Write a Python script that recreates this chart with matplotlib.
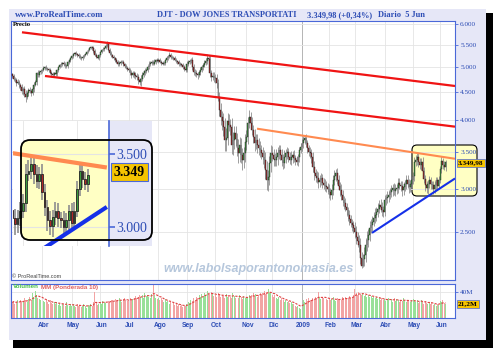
import matplotlib
matplotlib.use("Agg")

import matplotlib.pyplot as plt
import numpy as np
import pandas as pd
from matplotlib.patches import FancyBboxPatch, Rectangle
from matplotlib.ticker import NullLocator
from matplotlib.transforms import IdentityTransform

W, H, DPI = 495, 352, 100
plt.rcParams["font.family"] = ["Liberation Serif", "DejaVu Serif"]

# ---- data (daily bars, DJT, 28 Feb 2008 - 5 Jun 2009) ----
first_day = "2008-02-28"
last_day = "2009-06-05"
market_holidays = ["2008-03-21", "2008-05-26", "2008-07-04", "2008-09-01", "2008-11-27",
                   "2008-12-25", "2009-01-01", "2009-01-19", "2009-02-16", "2009-04-10",
                   "2009-05-25"]
prev_close = 4860.0

close = [
    4820, 4760,  # feb 08
    4745, 4690, 4700, 4640, 4600, 4520, 4560, 4470, 4410, 4480,
    4545, 4520, 4490, 4560, 4650, 4700, 4880, 4850, 4900, 4920,  # mar
    4945, 4990, 5010, 4970, 4960, 4945, 4890, 4860, 4840, 4875, 4860,
    4940, 5007, 5040, 5070, 5092, 5060, 5020, 5030, 5110, 5150, 5200,  # apr
    5240, 5280, 5310, 5290, 5267, 5240, 5210, 5200, 5230, 5260, 5290,
    5340, 5380, 5420, 5440, 5420, 5360, 5270, 5230, 5200, 5260,  # may
    5330, 5370, 5400, 5420, 5480, 5520, 5380, 5320, 5260, 5230, 5190,
    5157, 5120, 5070, 5090, 5120, 5113, 5060, 5030, 4990, 4960,  # jun
    4945, 4890, 4840, 4880, 4840, 4820, 4800, 4740, 4700, 4770, 4840,
    4890, 4920, 4945, 5010, 5070, 5090, 5113, 5080, 5120, 5150, 5140,  # jul
    5157, 5120, 5100, 5080, 5092, 5150, 5200, 5240, 5267, 5230, 5210,
    5200, 5160, 5130, 5113, 5080, 5060, 5049, 5000, 4960, 4945,  # aug
    5080, 5113, 5140, 5157, 5010, 4903, 4880, 4860, 4840, 4900, 4950,
    5007, 5050, 5092, 5140, 5200, 5180, 4883, 4800, 4830, 4790,  # sep
    4780, 4682, 4413, 4179, 4050, 3990, 3890, 3683, 3720, 3990, 3930, 3891,
    3606, 3683, 3793, 3700, 3561, 3487, 3606, 3458, 3386, 3480, 3650,  # oct
    3730, 3957, 4057, 3950, 3841, 3730, 3630, 3683, 3606, 3560,
    3532, 3487, 3429, 3386, 3250, 3113, 3153, 3343, 3487,  # nov
    3458, 3400, 3386, 3429, 3480, 3532, 3450, 3386, 3343, 3429, 3480,
    3502, 3429, 3386, 3429, 3458, 3410, 3386, 3358, 3429, 3532, 3580,  # dec
    3630, 3683, 3714, 3630, 3561, 3500, 3487, 3429, 3287, 3206,
    3160, 3139, 3087, 3113, 3139, 3074, 3050, 3040, 3022, 3000,  # jan 09
    2960, 2922, 2984, 3113, 3160, 3206, 3113, 3040, 2984, 2920,
    2862, 2820, 2780, 2740, 2687, 2640, 2600, 2574, 2540,  # feb
    2500, 2448, 2410, 2367, 2242, 2170, 2230, 2270, 2367, 2420, 2470,
    2543, 2576, 2610, 2652, 2690, 2720, 2760, 2800, 2780, 2740, 2720,  # mar
    2862, 2880, 2898, 2922, 2960, 2984, 3009, 2972, 2990, 3009, 3074,
    3050, 3035, 2984, 3020, 3061, 3113, 3060, 3022, 3060, 3108,  # apr
    3160, 3357, 3380, 3430, 3360, 3310, 3357, 3230, 3130, 3045,
    3010, 3065, 3108, 3060, 3045, 3000, 3045, 3108, 3030, 3108,  # may
    3256, 3378, 3320, 3285, 3349.98,  # jun
]

wick_hi = [
    30, 40,
    50, 35, 60, 40, 45, 70, 40, 55, 80, 45, 30, 60, 50, 40, 55, 45, 30, 60, 40, 35,
    30, 40, 25, 45, 35, 30, 50, 40, 35, 30, 45, 25, 30, 40, 35, 25, 40, 45, 30, 35, 30, 25,
    35, 30, 25, 40, 30, 35, 40, 30, 25, 35, 30, 25, 30, 35, 40, 30, 45, 35, 30, 40, 35,
    30, 35, 40, 30, 45, 60, 35, 40, 30, 35, 40, 30, 45, 35, 40, 30, 35, 45, 30, 40, 35,
    50, 40, 60, 45, 50, 70, 55, 60, 50, 65, 55, 45, 60, 50, 40, 55, 45, 35, 40, 50, 35, 40,
    35, 40, 30, 35, 40, 30, 45, 35, 60, 40, 30, 35, 40, 30, 35, 40, 30, 35, 40, 45, 35,
    50, 35, 45, 40, 70, 60, 55, 65, 50, 45, 60, 50, 45, 55, 60, 90, 70, 80, 60, 75, 65,
    80, 90, 70, 100, 120, 110, 130, 150, 160, 140, 120, 100, 150, 130, 110, 120, 100, 130,
    120, 110, 100, 90, 120,
    110, 100, 120, 90, 110, 80, 120, 100, 90, 110, 100, 80, 90, 100, 110, 120, 90, 100, 120,
    100, 90, 80, 110, 90, 80, 70, 90, 80, 100, 70, 80, 60, 70, 80, 60, 70, 50, 60, 50, 40, 60,
    70, 60, 50, 70, 60, 50, 80, 60, 70, 90, 60, 70, 80, 60, 70, 50, 60, 70, 60, 50,
    60, 50, 70, 60, 80, 60, 70, 60, 50, 70, 60, 50, 60, 50, 40, 60, 50, 40, 50,
    70, 60, 50, 60, 70, 60, 50, 80, 70, 90, 60, 80, 70, 60, 70, 80, 60, 70, 60, 70, 60, 50,
    60, 50, 70, 60, 50, 60, 50, 60, 70, 50, 60, 70, 50, 60, 70, 50, 60, 70, 60, 50, 60,
    60, 70, 80, 60, 50, 60, 50, 70, 60, 50, 60, 50, 60, 50, 40, 60, 50, 40, 50, 60,
    50, 60, 40, 50, 40,
]

wick_lo = [
    40, 30,
    40, 60, 35, 50, 60, 45, 70, 50, 90, 40, 50, 35, 60, 45, 50, 35, 60, 40, 45, 30,
    40, 30, 45, 35, 30, 40, 35, 50, 45, 35, 30, 40, 35, 30, 25, 40, 35, 30, 40, 35, 30, 35,
    30, 35, 40, 30, 35, 30, 25, 40, 35, 30, 25, 35, 30, 25, 30, 35, 40, 30, 35, 30, 45,
    35, 30, 25, 35, 30, 40, 35, 45, 40, 30, 35, 40, 30, 35, 45, 40, 30, 35, 40, 30, 45,
    40, 50, 60, 45, 55, 50, 60, 70, 65, 80, 50, 45, 55, 40, 45, 50, 40, 45, 35, 40, 45, 35,
    40, 35, 45, 40, 35, 40, 30, 35, 40, 45, 35, 40, 30, 35, 40, 45, 35, 30, 40, 45, 40,
    40, 45, 35, 40, 60, 70, 60, 50, 70, 45, 50, 40, 55, 45, 50, 60, 80, 90, 70, 60, 80,
    90, 100, 80, 110, 130, 150, 140, 160, 170, 120, 110, 130, 140, 150, 130, 110, 120, 140,
    130, 120, 140, 110, 130,
    120, 110, 90, 100, 80, 100, 110, 90, 120, 100, 110, 90, 100, 110, 120, 130, 140, 110, 120,
    90, 100, 80, 90, 110, 80, 70, 80, 90, 70, 90, 80, 70, 60, 70, 80, 60, 70, 50, 60, 70, 50,
    60, 70, 60, 50, 70, 60, 70, 80, 70, 90, 80, 70, 80, 70, 60, 70, 60, 70, 60, 70,
    70, 60, 50, 60, 70, 60, 50, 60, 70, 60, 70, 60, 50, 60, 70, 60, 50, 60, 50,
    60, 70, 60, 70, 60, 25, 15, 60, 70, 60, 70, 60, 50, 60, 50, 60, 70, 60, 50, 60, 70, 60,
    50, 60, 50, 60, 50, 60, 70, 50, 60, 50, 60, 50, 60, 70, 60, 50, 60, 50, 70, 60, 50,
    50, 60, 50, 60, 70, 50, 60, 50, 60, 70, 60, 70, 50, 60, 50, 60, 50, 60, 50, 40,
    40, 50, 60, 40, 50,
]

volume_m = [
    24, 26,
    22, 25, 27, 23, 28, 26, 24, 30, 27, 25, 29, 32, 28, 38, 33, 42, 36, 31, 29, 27,
    30, 26, 24, 28, 25, 22, 27, 23, 21, 25, 22, 24, 20, 23, 19, 22, 21, 18, 24, 20, 19, 22,
    18, 21, 19, 17, 22, 18, 20, 17, 19, 21, 18, 16, 20, 19, 22, 18, 24, 40, 23, 20, 22,
    24, 22, 26, 25, 23, 27, 26, 24, 28, 27, 25, 29, 26, 28, 30, 27, 25, 29, 31, 28, 26,
    27, 30, 28, 29, 31, 34, 30, 33, 36, 32, 35, 31, 38, 34, 36, 33, 30, 37, 52, 35, 31, 29,
    30, 28, 31, 27, 25, 29, 24, 26, 22, 25, 21, 23, 20, 22, 19, 21, 18, 20, 17, 19, 18,
    22, 25, 23, 27, 26, 30, 28, 33, 31, 35, 32, 37, 34, 39, 36, 42, 38, 35, 40, 37, 34,
    36, 33, 38, 35, 32, 36, 34, 31, 37, 33, 35, 32, 30, 39, 34, 31, 33, 30, 35, 32, 29, 34, 31,
    30, 33, 36, 32, 35, 38, 34, 37, 33, 36, 39, 35, 38, 41, 37, 40, 45, 39, 38,
    35, 33, 36, 31, 29, 32, 28, 30, 27, 25, 28, 24, 26, 23, 25, 21, 22, 19, 17, 18, 16, 14,
    24, 27, 25, 29, 26, 30, 28, 27, 31, 29, 33, 30, 40, 32, 29, 31, 30, 33, 29, 28,
    30, 27, 29, 32, 28, 26, 30, 27, 29, 28, 32, 30, 33, 29, 31, 34, 30, 33, 35,
    44, 38, 36, 40, 37, 35, 39, 34, 36, 33, 35, 32, 34, 31, 33, 30, 32, 29, 31, 28, 30, 27,
    29, 26, 28, 31, 27, 29, 25, 30, 26, 29, 27, 24, 28, 26, 30, 27, 25, 28, 26, 24, 27,
    29, 26, 24, 27, 23, 25, 28, 24, 22, 26, 23, 21, 25, 22, 24, 20, 21, 19, 22, 20,
    26, 24, 27, 23, 21.2,
]

month_labels = ["Abr", "May", "Jun", "Jul", "Ago", "Sep", "Oct", "Nov", "Dic",
                "2009", "Feb", "Mar", "Abr", "May", "Jun"]
price_ticks = [2500, 3000, 3500, 4000, 4500, 5000, 5500, 6000]
price_ticklabels = ["2.500", "3.000", "3.500", "4.000", "4.500", "5.000", "5.500", "6.000"]
inset_ticks = [3000, 3500]
inset_ticklabels = ["3.000", "3.500"]
vol_ticks = [40]
vol_ticklabels = ["40M"]

# trend lines: (bar index, price) end points
trend_red_top = ([7.2, 327.0], [5794, 4622])
trend_red_bottom = ([24.2, 327.0], [4821, 3895])
trend_orange = ([180.8, 327.0], [3862, 3403])
trend_blue = ([265.7, 327.0], [2491, 3132])

site_text = "www.ProRealTime.com"
title_name = "DJT - DOW JONES TRANSPORTATI"
title_quote = "3.349,98 (+0,34%)"
title_period = "Diario  5 Jun"
last_price_text = "3.349,98"
inset_price_text = "3.349"
last_volume_text = "21,2M"
watermark = "www.labolsaporantonomasia.es"

# ---- derived series ----
days = pd.bdate_range(first_day, last_day)
days = days[~days.isin(pd.to_datetime(market_holidays))]
c = np.asarray(close, dtype=float)
assert len(days) == len(c) == len(wick_hi) == len(wick_lo) == len(volume_m)
o = np.r_[prev_close, c[:-1]]
high = np.maximum(o, c) + np.asarray(wick_hi)
low = np.minimum(o, c) - np.asarray(wick_lo)
up = c >= o
x = np.arange(len(c))
vol = np.asarray(volume_m, dtype=float)

weights = np.arange(1, 11, dtype=float)
mm = np.array([np.dot(vol[max(0, k - 9):k + 1], weights[-min(k + 1, 10):]) / weights[-min(k + 1, 10):].sum()
               for k in range(len(vol))])

month_start = np.flatnonzero(np.r_[True, days.month[1:] != days.month[:-1]])
label_idx = month_start[2:]
grid_idx = month_start[2:]
year_idx = month_start[np.flatnonzero(days[month_start].year == 2009)[0]]
assert len(label_idx) == len(month_labels)

# ---- styling ----
AX_BLUE = "#4a68d8"
TXT_BLUE = "#2d4db5"
PANEL = "#e6e7f7"
GRID = "#e4e4e4"
GREEN, RED = "#3c9c3c", "#b02828"
SANS = ["Liberation Sans", "DejaVu Sans"]


def px_axes(fig, x0, y0, x1, y1, **kw):
    return fig.add_axes([x0 / W, 1 - y1 / H, (x1 - x0) / W, (y1 - y0) / H], **kw)


def px_text(fig, px, py, s, **kw):
    return fig.text(px / W, 1 - py / H, s, **kw)


def px_round(x0, y0, x1, y1, r, **kw):
    return FancyBboxPatch((x0, H - y1), x1 - x0, y1 - y0,
                          boxstyle=f"round,pad=0,rounding_size={r}",
                          transform=IdentityTransform(), **kw)


def px_rect(x0, y0, x1, y1, **kw):
    return Rectangle((x0, H - y1), x1 - x0, y1 - y0, transform=IdentityTransform(), **kw)


def draw_price(ax, k):
    ax.vlines(x, low, high, colors="#8e8e8e", linewidth=0.6 * k, zorder=2)
    bottom = np.minimum(o, c)
    height = np.maximum(np.abs(c - o), c * 0.0015)
    ax.bar(x, height, bottom=bottom, width=0.62, color=np.where(up, GREEN, RED),
           edgecolor="#262626", linewidth=0.3 * k, zorder=3)
    ax.plot(*trend_red_top, color="#f01414", lw=1.6 * k, zorder=4, solid_capstyle="butt")
    ax.plot(*trend_red_bottom, color="#f01414", lw=1.6 * k, zorder=4, solid_capstyle="butt")
    ax.plot(*trend_orange, color="#ff8a50", lw=1.5 * k, zorder=4, solid_capstyle="butt")
    ax.plot(*trend_blue, color="#1530e8", lw=1.5 * k, zorder=4, solid_capstyle="butt")
    for i in grid_idx:
        ax.axvline(i, color="#a8a8a8" if i == year_idx else GRID, lw=0.6, zorder=0.5)


fig = plt.figure(figsize=(W / DPI, H / DPI), dpi=DPI)
fig.patch.set_facecolor("white")
fig.add_artist(px_rect(13, 13, 493, 348, fc="black", ec="none", zorder=-3))
fig.add_artist(px_rect(9, 9, 486, 340, fc=PANEL, ec="none", zorder=-2))

# header
hdr = dict(color=TXT_BLUE, fontsize=6.0, fontweight="bold", va="center")
px_text(fig, 15, 15, site_text, **{**hdr, "fontsize": 6.3})
px_text(fig, 157, 15, title_name, **hdr)
px_text(fig, 307, 15, title_quote, **hdr)
px_text(fig, 378, 15, title_period, **hdr)

# main price panel
ax = px_axes(fig, 11, 21, 455, 280)
ax.set_facecolor("white")
ax.add_patch(px_round(412, 145, 477, 196, 5, fc="#ffffc4", ec="black", lw=0.8,
                      zorder=1, clip_on=False))
draw_price(ax, 1.0)
ax.set_yscale("log")
ax.set_xlim(-0.9, 327.0)
ax.set_ylim(2043, 6076)
ax.set_yticks(price_ticks, price_ticklabels)
ax.yaxis.set_minor_locator(NullLocator())
ax.yaxis.tick_right()
ax.set_xticks([])
ax.tick_params(axis="y", direction="out", length=2.5, width=0.6, color=AX_BLUE,
               labelcolor=TXT_BLUE, labelsize=5.2, pad=1.2)
ax.grid(axis="y", color=GRID, lw=0.6, zorder=0.5)
for s in ax.spines.values():
    s.set_color(AX_BLUE)
    s.set_linewidth(0.8)

px_text(fig, 13, 24, "Precio", fontsize=4.8, fontweight="bold", color="black", va="center")
px_text(fig, 12, 277, "\u00a9 ProRealTime.com", fontsize=4, color="#444444", va="center",
        family=SANS)
px_text(fig, 259, 269, watermark, fontsize=9, fontweight="bold", fontstyle="italic",
        color="#b6c7dc", ha="center", va="center", family=SANS)
px_text(fig, 458, 163, last_price_text, fontsize=5.2, fontweight="bold", color="black",
        va="center", zorder=9,
        bbox=dict(boxstyle="square,pad=0.18", fc="#f5c400", ec=AX_BLUE, lw=0.5))

# volume panel
axv = px_axes(fig, 11, 284, 455, 318)
axv.set_facecolor("white")
axv.bar(x, vol, width=0.72, color=np.where(up, "#98e098", "#f2a4a4"), zorder=2)
axv.plot(x, mm, color="#e04040", lw=0.8, ls=(0, (2.0, 1.2)), zorder=3)
for i in grid_idx:
    axv.axvline(i, color="#a8a8a8" if i == year_idx else GRID, lw=0.6, zorder=0.5)
axv.set_xlim(-0.9, 327.0)
axv.set_ylim(0, 52.3)
axv.set_yticks(vol_ticks, vol_ticklabels)
axv.yaxis.tick_right()
axv.grid(axis="y", color=GRID, lw=0.6, zorder=0.5)
axv.tick_params(axis="y", direction="out", length=2.5, width=0.6, color=AX_BLUE,
                labelcolor=TXT_BLUE, labelsize=5.2, pad=1.2)
axv.set_xticks(label_idx + 1, month_labels)
axv.tick_params(axis="x", length=0, pad=3, labelsize=4.8, labelcolor=TXT_BLUE)
for t in axv.get_xticklabels():
    t.set_fontweight("bold")
    t.set_family(SANS)
for s in axv.spines.values():
    s.set_color(AX_BLUE)
    s.set_linewidth(0.8)
px_text(fig, 13, 287, "Volumen", fontsize=4.5, fontweight="bold", color="#48c048",
        va="center", family=SANS)
px_text(fig, 41, 287, "MM (Ponderada 10)", fontsize=4.5, fontweight="bold", color="#e06060",
        va="center", family=SANS)
px_text(fig, 458, 304, last_volume_text, fontsize=5.2, fontweight="bold", color="black",
        va="center", bbox=dict(boxstyle="square,pad=0.18", fc="#f5c400", ec=AX_BLUE, lw=0.5))

# magnified inset of the last weeks
fig.add_artist(px_rect(109, 121, 152, 246, fc=PANEL, ec="none", zorder=4))
axi = px_axes(fig, 13, 121, 109, 246, zorder=5)
axi.set_facecolor("white")
axi.add_patch(px_round(21, 140, 152, 240, 9, fc="#ffffc4", ec="none", zorder=0.6))
draw_price(axi, 2.0)
axi.set_yscale("log")
axi.set_xlim(292.3, 327.8)
axi.set_ylim(2885, 3753)
axi.set_yticks(inset_ticks, inset_ticklabels)
axi.yaxis.set_minor_locator(NullLocator())
axi.yaxis.tick_right()
axi.set_xticks([])
axi.grid(axis="y", color=GRID, lw=0.8, zorder=0.5)
axi.tick_params(axis="y", direction="out", length=4, width=1.2, color=AX_BLUE,
                labelcolor=TXT_BLUE, labelsize=10, pad=1)
for name, s in axi.spines.items():
    s.set_visible(name == "right")
    s.set_color(AX_BLUE)
    s.set_linewidth(1.2)
fig.add_artist(px_round(21, 140, 152, 240, 9, fill=False, ec="black", lw=1.3, zorder=7))
px_text(fig, 114, 172, inset_price_text, fontsize=10, fontweight="bold", color="black",
        va="center", zorder=8,
        bbox=dict(boxstyle="square,pad=0.2", fc="#f5c400", ec=AX_BLUE, lw=0.8))

fig.savefig("out.png", dpi=DPI)
